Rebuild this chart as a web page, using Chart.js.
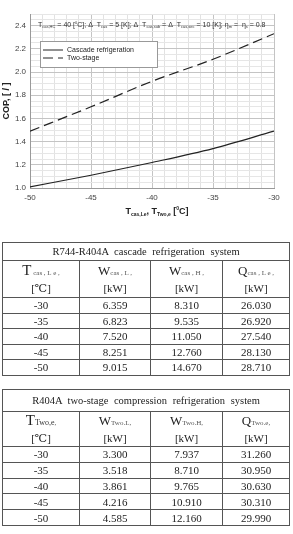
<!DOCTYPE html>
<html>
<head>
<meta charset="utf-8">
<script src="https://cdn.jsdelivr.net/npm/chart.js"></script>
<style>
  body { margin: 0; width: 293px; height: 534px; background: #fff; position: relative; overflow: hidden; }
  #chartBox { position: absolute; left: 0; top: 0; width: 293px; height: 222px; }
  .note { position: absolute; left: 38px; top: 20px; font: 7px "Liberation Sans", Arial, sans-serif; color: #333; white-space: nowrap; }
  .note sub { font-size: 4px; vertical-align: -1px; }
  .xtitle { position: absolute; left: 0; width: 314px; top: 205px; text-align: center; font: bold 9px "Liberation Sans", Arial, sans-serif; color: #222; }
  .xtitle sub { font-size: 5px; vertical-align: -2px; }
  table { position: absolute; left: 2px; border-collapse: collapse; table-layout: fixed; width: 287px;
          font-family: "Liberation Serif", "DejaVu Serif", serif; color: #222; }
  td { border: 1px solid #555; text-align: center; padding: 0; font-size: 11px; }
  td.ttl { font-size: 10.5px; word-spacing: 3px; }
  .big { font-size: 15px; }
  .mid { font-size: 13px; }
  .sb { font-size: 7px; color: #555; }
  .hd { line-height: 15px; }
</style>
</head>
<body>
<div id="chartBox"><canvas id="copChart" width="293" height="222"></canvas></div>
<div class="note">T<sub>cas,HC</sub> = 40 [<sup style="font-size:4px">0</sup>C]; Δ&nbsp; T<sub>cas</sub> = 5 [K]; Δ&nbsp; T<sub>cas,sub</sub> = Δ&nbsp; T<sub>cas,sec</sub> = 10 [K]; η<sub>m</sub> = &nbsp;η<sub>s</sub> = 0.8</div>
<div class="xtitle">T<sub>cas,Le</sub>, T<sub>Two,e</sub> [<sup style="font-size:5px">0</sup>C]</div>

<table id="casTable" style="top:242px"></table>
<table id="twoTable" style="top:389px"></table>

<script>
// chart data
const evapTemps = [-50, -45, -40, -35, -30];
const copCascade = [1.01, 1.11, 1.22, 1.34, 1.49];
const copTwoStage = [1.49, 1.70, 1.92, 2.11, 2.33];

// table data
const tableTemps = ['-30', '-35', '-40', '-45', '-50'];
const casWL = ['6.359', '6.823', '7.520', '8.251', '9.015'];
const casWH = ['8.310', '9.535', '11.050', '12.760', '14.670'];
const casQ = ['26.030', '26.920', '27.540', '28.130', '28.710'];
const twoWL = ['3.300', '3.518', '3.861', '4.216', '4.585'];
const twoWH = ['7.937', '8.710', '9.765', '10.910', '12.160'];
const twoQ = ['31.260', '30.950', '30.630', '30.310', '29.990'];

function fillTable(id, title, heads, cols, titleH, headH, rowH) {
  const t = document.getElementById(id);
  let html = '<colgroup><col style="width:77px"><col style="width:71px"><col style="width:72px"><col style="width:67px"></colgroup>';
  html += '<tr style="height:' + titleH + 'px"><td colspan="4" class="ttl">' + title + '</td></tr>';
  html += '<tr style="height:' + headH + 'px">' + heads.map(h => '<td class="hd">' + h + '</td>').join('') + '</tr>';
  for (let i = 0; i < cols[0].length; i++) {
    html += '<tr style="height:' + rowH + 'px">' + cols.map(c => '<td>' + c[i] + '</td>').join('') + '</tr>';
  }
  t.innerHTML = html;
}

fillTable('casTable', 'R744-R404A cascade refrigeration system', [
  '<span class="big">T</span><span class="sb"> cas , L e ,</span><br>[℃]',
  '<span class="mid">W</span><span class="sb">cas , L ,</span><br>[kW]',
  '<span class="mid">W</span><span class="sb">cas , H ,</span><br>[kW]',
  '<span class="mid">Q</span><span class="sb">cas , L e ,</span><br>[kW]'
], [tableTemps, casWL, casWH, casQ], 18, 37, 15.5);

fillTable('twoTable', 'R404A two-stage compression refrigeration system', [
  '<span class="big">T</span><span class="sb" style="font-size:8px;color:#333">Two,e</span><span class="sb">,</span><br>[℃]',
  '<span class="mid">W</span><span class="sb">Two.L</span><span class="sb">,</span><br>[kW]',
  '<span class="mid">W</span><span class="sb">Two.H</span><span class="sb">,</span><br>[kW]',
  '<span class="mid">Q</span><span class="sb">Two.e</span><span class="sb">,</span><br>[kW]'
], [tableTemps, twoWL, twoWH, twoQ], 22, 35, 15.8);

const boxLegend = {
  id: 'boxLegend',
  afterDatasetsDraw(chart) {
    const ctx = chart.ctx;
    ctx.save();
    ctx.fillStyle = '#fff';
    ctx.strokeStyle = '#999';
    ctx.lineWidth = 1;
    ctx.fillRect(40.5, 41.5, 117, 26);
    ctx.strokeRect(40.5, 41.5, 117, 26);
    chart.data.datasets.forEach((ds, i) => {
      const y = 50 + i * 8;
      ctx.beginPath();
      ctx.setLineDash(ds.borderDash || []);
      ctx.strokeStyle = '#222';
      ctx.moveTo(43, y);
      ctx.lineTo(63, y);
      ctx.stroke();
      ctx.setLineDash([]);
      ctx.fillStyle = '#222';
      ctx.font = '7px "Liberation Sans", Arial, sans-serif';
      ctx.textBaseline = 'middle';
      ctx.fillText(ds.label, 67, y);
    });
    ctx.restore();
  }
};

const isMult = (v, step) => Math.abs(v / step - Math.round(v / step)) < 1e-6;

new Chart(document.getElementById('copChart'), {
  type: 'line',
  data: {
    datasets: [
      {
        label: 'Cascade refrigeration',
        data: evapTemps.map((t, i) => ({ x: t, y: copCascade[i] })),
        borderColor: '#222',
        borderWidth: 1.2,
        pointRadius: 0,
        cubicInterpolationMode: 'monotone'
      },
      {
        label: 'Two-stage',
        data: evapTemps.map((t, i) => ({ x: t, y: copTwoStage[i] })),
        borderColor: '#222',
        borderWidth: 1.2,
        borderDash: [10, 5],
        pointRadius: 0,
        cubicInterpolationMode: 'monotone'
      }
    ]
  },
  options: {
    responsive: false,
    animation: false,
    layout: { padding: { top: 14, right: 19, left: 0, bottom: 0 } },
    plugins: { legend: { display: false }, tooltip: { enabled: false } },
    scales: {
      x: {
        type: 'linear',
        min: -50,
        max: -30,
        afterFit: (s) => { s.height = 34; },
        border: { color: '#999' },
        grid: {
          drawTicks: false,
          color: (c) => isMult(c.tick.value, 5) ? '#c4c4c4' : '#e2e2e2'
        },
        ticks: {
          stepSize: 1,
          padding: 5,
          autoSkip: false,
          maxRotation: 0,
          color: '#444',
          font: { size: 8, family: '"Liberation Sans", Arial, sans-serif' },
          callback: (v) => isMult(v, 5) ? String(v) : ''
        }
      },
      y: {
        min: 1.0,
        max: 2.5,
        afterFit: (s) => { s.width = 30; },
        border: { color: '#999' },
        grid: {
          drawTicks: false,
          color: (c) => isMult(c.tick.value, 0.2) ? '#c4c4c4' : '#e6e6e6'
        },
        title: {
          display: true,
          text: 'COP, [ / ]',
          color: '#222',
          padding: { top: 1, bottom: 0 },
          font: { size: 9, weight: 'bold', family: '"Liberation Sans", Arial, sans-serif' }
        },
        ticks: {
          stepSize: 0.05,
          padding: 4,
          autoSkip: false,
          color: '#444',
          font: { size: 8, family: '"Liberation Sans", Arial, sans-serif' },
          callback: (v) => isMult(v, 0.2) ? v.toFixed(1) : ''
        }
      }
    }
  },
  plugins: [boxLegend]
});
</script>
</body>
</html>
